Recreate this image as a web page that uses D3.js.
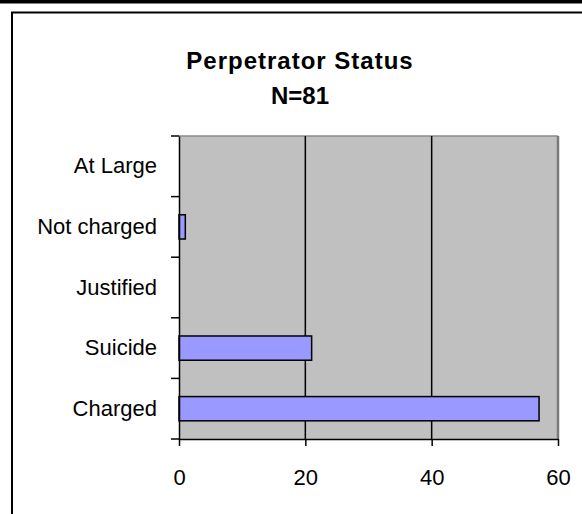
<!DOCTYPE html>
<html>
<head>
<meta charset="utf-8">
<script src="https://cdn.jsdelivr.net/npm/d3@7"></script>
<style>
    body { margin: 0; background: #fff; }
    svg { display: block; font-family: "Liberation Sans", Arial, sans-serif; }
</style>
</head>
<body>
<svg id="svg"></svg>
<script>
// chart data
let categories = ["At Large", "Not charged", "Justified", "Suicide", "Charged"];
let counts = [0, 1, 0, 21, 57];
let xTicks = [0, 20, 40, 60];
let titleLines = ["Perpetrator Status", "N=81"];

const width = 582;
const height = 514;

let svg = d3.select("#svg")
    .attr("width", width)
    .attr("height", height);

// page frame: heavy rule on top, thin frame below it
svg.append("rect")
    .attr("x", 0).attr("y", 0)
    .attr("width", width).attr("height", 3.5)
    .attr("fill", "#000");
svg.append("path")
    .attr("d", `M12,${height} V12.5 H${width}`)
    .attr("fill", "none")
    .attr("stroke", "#000")
    .attr("stroke-width", 2);

const margin = { top: 136, right: 24, bottom: 75, left: 179 };
let chartWidth = width - margin.left - margin.right;
let chartHeight = height - margin.top - margin.bottom;

let chart = svg.append("g")
    .attr("transform", "translate(" + margin.left + "," + margin.top + ")");

let xScale = d3.scaleLinear()
    .domain([0, 60])
    .range([0, chartWidth]);

let yScale = d3.scaleBand()
    .domain(categories)
    .range([0, chartHeight])
    .padding(0);

// plot area
chart.append("rect")
    .attr("width", chartWidth)
    .attr("height", chartHeight)
    .attr("fill", "#c0c0c0");
chart.append("line")
    .attr("x1", 0).attr("x2", chartWidth)
    .attr("y1", 0).attr("y2", 0)
    .attr("stroke", "#8c8c8c")
    .attr("stroke-width", 1.5);
chart.append("line")
    .attr("x1", chartWidth).attr("x2", chartWidth)
    .attr("y1", 0).attr("y2", chartHeight)
    .attr("stroke", "#7a7a7a")
    .attr("stroke-width", 2.5);

// gridlines
chart.selectAll(".grid")
    .data(xTicks.filter(d => d > 0 && d < 60))
    .enter()
    .append("line")
        .attr("class", "grid")
        .attr("x1", d => xScale(d)).attr("x2", d => xScale(d))
        .attr("y1", 0).attr("y2", chartHeight)
        .attr("stroke", "#000")
        .attr("stroke-width", 1.5);

// bars
let barH = yScale.bandwidth() * 0.4;
chart.selectAll(".bar")
    .data(categories.map((c, i) => ({ cat: c, value: counts[i] })).filter(d => d.value > 0))
    .enter()
    .append("rect")
        .attr("class", "bar")
        .attr("x", 0)
        .attr("y", d => yScale(d.cat) + (yScale.bandwidth() - barH) / 2)
        .attr("width", d => xScale(d.value))
        .attr("height", barH)
        .attr("fill", "#9999ff")
        .attr("stroke", "#000")
        .attr("stroke-width", 1.5);

// x axis
let xAxis = chart.append("g")
    .attr("class", "x-axis")
    .attr("transform", `translate(0,${chartHeight})`)
    .call(d3.axisBottom(xScale).tickValues(xTicks).tickSize(7).tickPadding(23).tickSizeOuter(0));

// y axis, ticks sit on the band edges
let yAxis = chart.append("g")
    .attr("class", "y-axis")
    .call(d3.axisLeft(yScale).tickSize(0).tickPadding(22));

yAxis.selectAll(".edge")
    .data(d3.range(categories.length + 1))
    .enter()
    .append("line")
        .attr("class", "edge")
        .attr("x1", -8).attr("x2", 0)
        .attr("y1", i => i * yScale.step()).attr("y2", i => i * yScale.step())
        .attr("stroke", "#000")
        .attr("stroke-width", 1.5);

svg.selectAll(".domain, .tick line")
    .attr("stroke", "#000")
    .attr("stroke-width", 1.5);
svg.selectAll(".tick text")
    .attr("fill", "#000")
    .style("font-size", "22px");

// title
svg.selectAll(".title")
    .data(titleLines)
    .enter()
    .append("text")
        .attr("class", "title")
        .attr("x", 300)
        .attr("y", (d, i) => 69 + i * 35)
        .attr("text-anchor", "middle")
        .style("font-size", "24px")
        .style("font-weight", "bold")
        .style("letter-spacing", (d, i) => i === 0 ? "1px" : "0px")
        .text(d => d);
</script>
</body>
</html>
